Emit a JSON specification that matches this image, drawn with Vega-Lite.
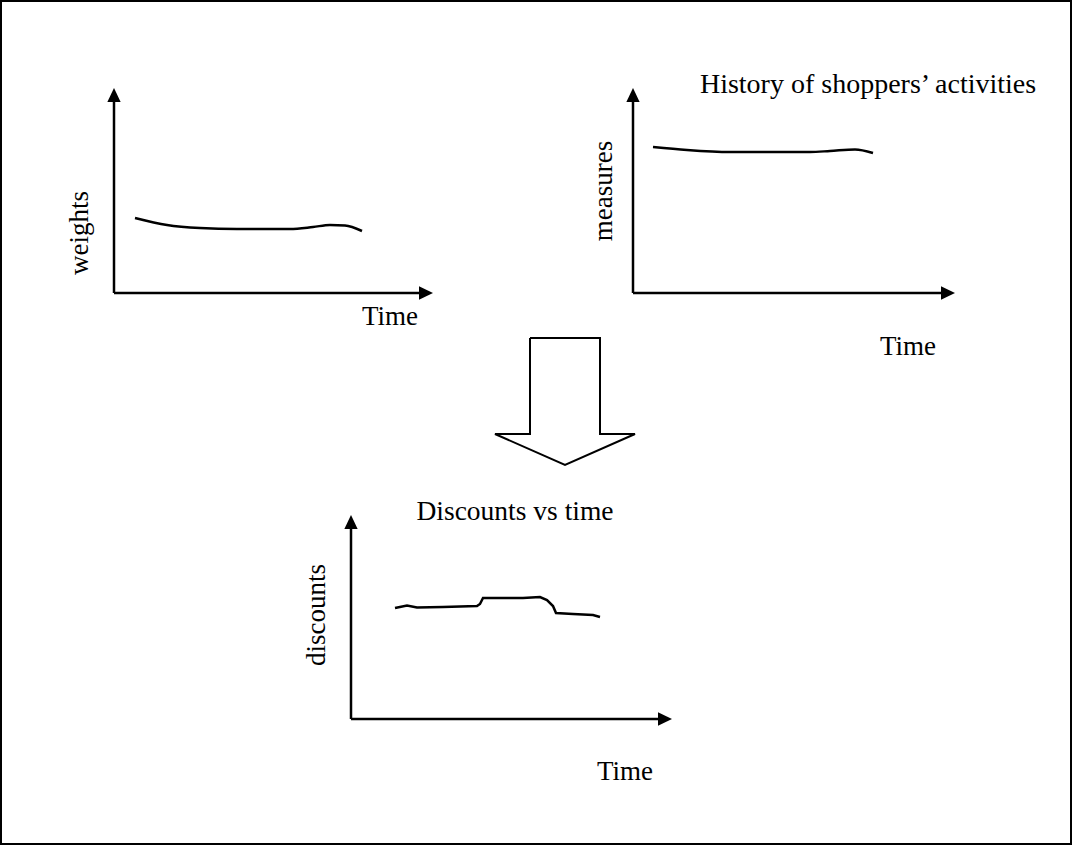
{
  "$schema": "https://vega.github.io/schema/vega-lite/v6.json",
  "width": 1073,
  "height": 846,
  "autosize": {"type": "fit", "contains": "padding"},
  "padding": 0,
  "background": "white",
  "config": {"view": {"stroke": null}},
  "datasets": {
    "frame": [{"x": 1, "x2": 1071, "y": 1, "y2": 844}],
    "axes": [
      {"x": 114, "y": 293, "x2": 114, "y2": 100},
      {"x": 114, "y": 293, "x2": 422, "y2": 293},
      {"x": 633, "y": 293, "x2": 633, "y2": 100},
      {"x": 633, "y": 293, "x2": 944, "y2": 293},
      {"x": 351, "y": 719, "x2": 351, "y2": 527},
      {"x": 351, "y": 719, "x2": 661, "y2": 719}
    ],
    "headsUp": [
      {"x": 114, "y": 95},
      {"x": 633, "y": 95},
      {"x": 351, "y": 522}
    ],
    "headsRight": [
      {"x": 426, "y": 293},
      {"x": 948, "y": 293},
      {"x": 665, "y": 719}
    ],
    "weights": [
      {"t": 135, "v": 218}, {"t": 167, "v": 225}, {"t": 200, "v": 228},
      {"t": 237, "v": 229}, {"t": 290, "v": 229}, {"t": 313, "v": 227},
      {"t": 330, "v": 225}, {"t": 345, "v": 225.5}, {"t": 362, "v": 231}
    ],
    "measures": [
      {"t": 653, "v": 147}, {"t": 687, "v": 150}, {"t": 730, "v": 152},
      {"t": 810, "v": 152}, {"t": 830, "v": 151}, {"t": 855, "v": 149.5},
      {"t": 873, "v": 153}
    ],
    "discounts": [
      {"t": 395, "v": 608}, {"t": 407, "v": 605.5}, {"t": 417, "v": 607.5},
      {"t": 443, "v": 607}, {"t": 477, "v": 606}, {"t": 480, "v": 604},
      {"t": 483, "v": 598}, {"t": 523, "v": 598}, {"t": 540, "v": 597},
      {"t": 547, "v": 600}, {"t": 553, "v": 606}, {"t": 556, "v": 613},
      {"t": 573, "v": 614}, {"t": 593, "v": 615}, {"t": 600, "v": 617}
    ],
    "bigArrow": [
      {"o": 0, "x": 530, "y": 338}, {"o": 1, "x": 600, "y": 338},
      {"o": 2, "x": 600, "y": 434}, {"o": 3, "x": 635, "y": 434},
      {"o": 4, "x": 565, "y": 465}, {"o": 5, "x": 495, "y": 434},
      {"o": 6, "x": 530, "y": 434}, {"o": 7, "x": 530, "y": 338}
    ],
    "labels": [
      {"x": 390, "y": 325, "text": "Time", "fs": 27},
      {"x": 908, "y": 355, "text": "Time", "fs": 27},
      {"x": 625, "y": 780, "text": "Time", "fs": 27},
      {"x": 868, "y": 93, "text": "History of shoppers’ activities", "fs": 28},
      {"x": 515, "y": 520, "text": "Discounts vs time", "fs": 27.5}
    ],
    "vlabels": [
      {"x": 88, "y": 233, "text": "weights"},
      {"x": 612, "y": 191, "text": "measures"},
      {"x": 325, "y": 615, "text": "discounts"}
    ]
  },
  "layer": [
    {
      "data": {"name": "frame"},
      "mark": {"type": "rect", "fill": null, "stroke": "black", "strokeWidth": 2},
      "encoding": {
        "x": {"field": "x", "type": "quantitative", "scale": {"domain": [0, 1073], "nice": false, "zero": false}, "axis": null},
        "x2": {"field": "x2"},
        "y": {"field": "y", "type": "quantitative", "scale": {"domain": [0, 846], "nice": false, "zero": false, "reverse": true}, "axis": null},
        "y2": {"field": "y2"}
      }
    },
    {
      "data": {"name": "axes"},
      "mark": {"type": "rule", "stroke": "black", "strokeWidth": 2.5},
      "encoding": {
        "x": {"field": "x", "type": "quantitative", "scale": {"domain": [0, 1073], "nice": false, "zero": false}, "axis": null},
        "x2": {"field": "x2"},
        "y": {"field": "y", "type": "quantitative", "scale": {"domain": [0, 846], "nice": false, "zero": false, "reverse": true}, "axis": null},
        "y2": {"field": "y2"}
      }
    },
    {
      "data": {"name": "headsUp"},
      "mark": {"type": "point", "shape": "M0,-1L-0.95,1L0.95,1Z", "filled": true, "fill": "black", "opacity": 1, "size": 196, "strokeWidth": 0},
      "encoding": {
        "x": {"field": "x", "type": "quantitative", "scale": {"domain": [0, 1073], "nice": false, "zero": false}, "axis": null},
        "y": {"field": "y", "type": "quantitative", "scale": {"domain": [0, 846], "nice": false, "zero": false, "reverse": true}, "axis": null}
      }
    },
    {
      "data": {"name": "headsRight"},
      "mark": {"type": "point", "shape": "M1,0L-1,-0.95L-1,0.95Z", "filled": true, "fill": "black", "opacity": 1, "size": 196, "strokeWidth": 0},
      "encoding": {
        "x": {"field": "x", "type": "quantitative", "scale": {"domain": [0, 1073], "nice": false, "zero": false}, "axis": null},
        "y": {"field": "y", "type": "quantitative", "scale": {"domain": [0, 846], "nice": false, "zero": false, "reverse": true}, "axis": null}
      }
    },
    {
      "data": {"name": "weights"},
      "mark": {"type": "line", "stroke": "black", "strokeWidth": 2.5, "interpolate": "monotone"},
      "encoding": {
        "x": {"field": "t", "type": "quantitative", "scale": {"domain": [0, 1073], "nice": false, "zero": false}, "axis": null},
        "y": {"field": "v", "type": "quantitative", "scale": {"domain": [0, 846], "nice": false, "zero": false, "reverse": true}, "axis": null}
      }
    },
    {
      "data": {"name": "measures"},
      "mark": {"type": "line", "stroke": "black", "strokeWidth": 2.5, "interpolate": "monotone"},
      "encoding": {
        "x": {"field": "t", "type": "quantitative", "scale": {"domain": [0, 1073], "nice": false, "zero": false}, "axis": null},
        "y": {"field": "v", "type": "quantitative", "scale": {"domain": [0, 846], "nice": false, "zero": false, "reverse": true}, "axis": null}
      }
    },
    {
      "data": {"name": "discounts"},
      "mark": {"type": "line", "stroke": "black", "strokeWidth": 2.5, "interpolate": "linear"},
      "encoding": {
        "x": {"field": "t", "type": "quantitative", "scale": {"domain": [0, 1073], "nice": false, "zero": false}, "axis": null},
        "y": {"field": "v", "type": "quantitative", "scale": {"domain": [0, 846], "nice": false, "zero": false, "reverse": true}, "axis": null}
      }
    },
    {
      "data": {"name": "bigArrow"},
      "mark": {"type": "line", "stroke": "black", "strokeWidth": 2, "strokeJoin": "miter"},
      "encoding": {
        "x": {"field": "x", "type": "quantitative", "scale": {"domain": [0, 1073], "nice": false, "zero": false}, "axis": null},
        "y": {"field": "y", "type": "quantitative", "scale": {"domain": [0, 846], "nice": false, "zero": false, "reverse": true}, "axis": null},
        "order": {"field": "o", "type": "quantitative"}
      }
    },
    {
      "data": {"name": "labels"},
      "mark": {"type": "text", "font": "Liberation Serif", "fill": "black", "align": "center", "baseline": "alphabetic"},
      "encoding": {
        "x": {"field": "x", "type": "quantitative", "scale": {"domain": [0, 1073], "nice": false, "zero": false}, "axis": null},
        "y": {"field": "y", "type": "quantitative", "scale": {"domain": [0, 846], "nice": false, "zero": false, "reverse": true}, "axis": null},
        "text": {"field": "text"},
        "size": {"field": "fs", "type": "quantitative", "scale": null}
      }
    },
    {
      "data": {"name": "vlabels"},
      "mark": {"type": "text", "font": "Liberation Serif", "fontSize": 27, "fill": "black", "align": "center", "baseline": "alphabetic", "angle": 270},
      "encoding": {
        "x": {"field": "x", "type": "quantitative", "scale": {"domain": [0, 1073], "nice": false, "zero": false}, "axis": null},
        "y": {"field": "y", "type": "quantitative", "scale": {"domain": [0, 846], "nice": false, "zero": false, "reverse": true}, "axis": null},
        "text": {"field": "text"}
      }
    }
  ]
}
